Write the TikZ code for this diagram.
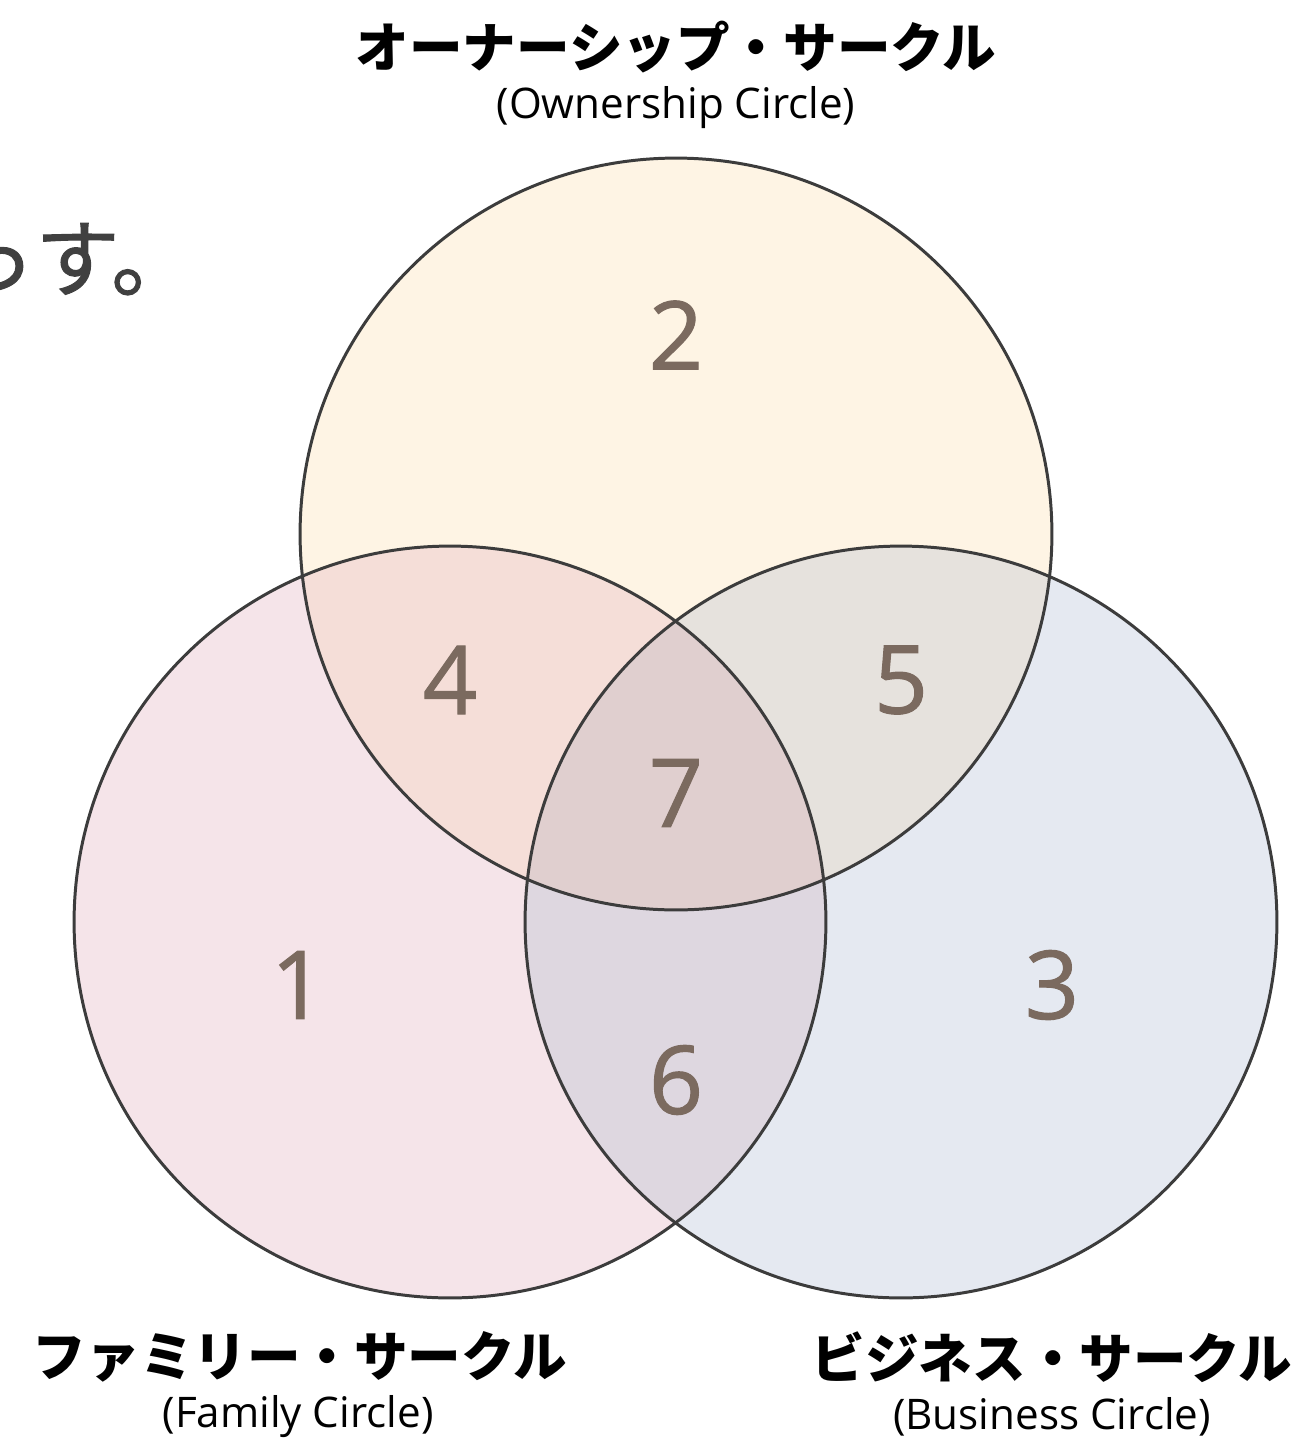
\documentclass[tikz,border=0pt]{standalone}
\usepackage{fontspec}
\setmainfont{Open Sans}
\newfontfamily\jpfont{Noto Sans CJK JP}
\newfontfamily\jpmidfont{Noto Sans CJK JP}[FakeBold=1.2]
\newfontfamily\numfont{Open Sans}[FakeBold=1.1]
\usepackage{xcolor}
\definecolor{vnown}{HTML}{FEF4E4}
\definecolor{vnfam}{HTML}{F5E4E9}
\definecolor{vnbus}{HTML}{E5E9F1}
\definecolor{vnownfam}{HTML}{F5DED8}
\definecolor{vnownbus}{HTML}{E6E2DD}
\definecolor{vnfambus}{HTML}{DED7E0}
\definecolor{vnall}{HTML}{E0CFCF}
\definecolor{vnline}{HTML}{3C3C3C}
\definecolor{vnnum}{HTML}{7B6A5F}
\definecolor{vntext}{HTML}{404040}
\usetikzlibrary{positioning}

\begin{document}
\begin{tikzpicture}[x=0.02cm, y=-0.02cm,
  ring/.style={draw=vnline, line width=1.7pt},
  regnum/.style={font=\numfont\fontsize{54}{60}\selectfont, text=vnnum},
  jptitle/.style={font=\jpfont\bfseries\fontsize{30.5}{34}\selectfont},
  entitle/.style={font=\fontsize{24}{28}\selectfont}]

\useasboundingbox (0,0) rectangle (1301,1441);

% --- Circle centres ---
\coordinate (cown) at (676,534);
\coordinate (cfam) at (450,922);
\coordinate (cbus) at (901,922);
\def\vrad{7.52cm}

% --- Leftover sentence from the slide behind ---
\node[font=\jpmidfont\fontsize{48}{52}\selectfont, text=vntext, anchor=base east,
      inner sep=0pt] (tail) at (196,290) {っす。};

% --- Fills ---
\fill[vnown] (cown) circle (\vrad);
\fill[vnfam] (cfam) circle (\vrad);
\fill[vnbus] (cbus) circle (\vrad);

\begin{scope}
  \clip (cown) circle (\vrad);
  \fill[vnownfam] (cfam) circle (\vrad);
  \fill[vnownbus] (cbus) circle (\vrad);
\end{scope}
\begin{scope}
  \clip (cfam) circle (\vrad);
  \fill[vnfambus] (cbus) circle (\vrad);
\end{scope}
\begin{scope}
  \clip (cown) circle (\vrad);
  \clip (cfam) circle (\vrad);
  \fill[vnall] (cbus) circle (\vrad);
\end{scope}

% --- Outlines ---
\draw[ring] (cown) circle (\vrad);
\draw[ring] (cfam) circle (\vrad);
\draw[ring] (cbus) circle (\vrad);

% --- Region numbers ---
\node[regnum] (n1) at (298,985) {1};
\node[regnum] (n2) at (676,335) {2};
\node[regnum] (n3) at (1052,985) {3};
\node[regnum] (n4) at (450,680) {4};
\node[regnum] (n5) at (901,680) {5};
\node[regnum] (n6) at (676,1080) {6};
\node[regnum] (n7) at (676,793) {7};

% --- Circle titles ---
\node[jptitle] (ownjp) at (676,47) {オーナーシップ・サークル};
\node[entitle] (ownen) at (676,108) {(Ownership Circle)};

\node[jptitle] (famjp) at (300,1357) {ファミリー・サークル};
\node[entitle] (famen) at (298,1417) {(Family Circle)};

\node[jptitle] (busjp) at (1052,1357) {ビジネス・サークル};
\node[entitle] (busen) at (1052,1417) {(Business Circle)};

\end{tikzpicture}
\end{document}
